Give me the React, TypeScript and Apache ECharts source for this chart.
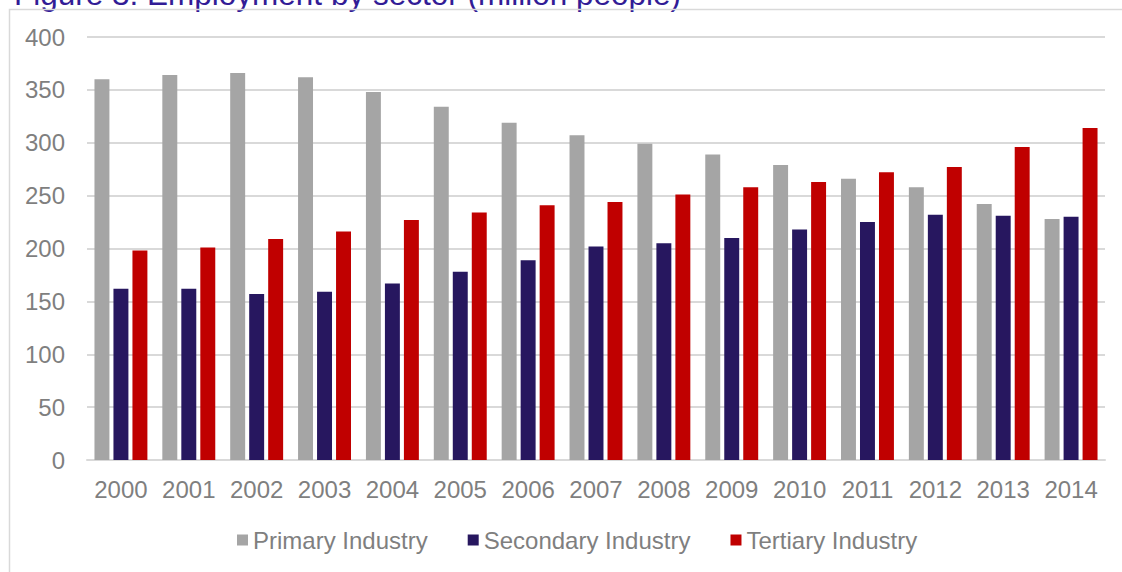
import React, { useEffect, useRef } from "react";
import * as echarts from "echarts";

const years = ["2000","2001","2002","2003","2004","2005","2006","2007","2008","2009","2010","2011","2012","2013","2014"];
const primary = [360, 364, 366, 362, 348, 334, 319, 307, 299, 289, 279, 266, 258, 242, 228];
const secondary = [162, 162, 157, 159, 167, 178, 189, 202, 205, 210, 218, 225, 232, 231, 230];
const tertiary = [198, 201, 209, 216, 227, 234, 241, 244, 251, 258, 263, 272, 277, 296, 314];
const seriesNames = ["Primary Industry", "Secondary Industry", "Tertiary Industry"];
const colors = ["#a5a5a5", "#27175f", "#c00000"];
const titleText = "Figure 3: Employment by sector (million people)";

export default function App() {
  const ref = useRef<HTMLDivElement>(null);
  useEffect(() => {
    if (!ref.current) return;
    const chart = echarts.init(ref.current, undefined, { renderer: "svg" });
    const font = "Liberation Sans, Arial, sans-serif";
    const dataSets = [primary, secondary, tertiary];
    chart.setOption({
      animation: false,
      backgroundColor: "#ffffff",
      textStyle: { fontFamily: font },
      graphic: [
        {
          type: "text",
          x: 14,
          y: 9.5,
          style: {
            text: titleText,
            fill: "#321c96",
            font: "31.5px Liberation Sans, Arial, sans-serif",
            textVerticalAlign: "bottom",
          },
        },
        {
          type: "rect",
          shape: { x: 9.5, y: 9.5, width: 1200, height: 700 },
          style: { fill: "none", stroke: "#d9d9d9", lineWidth: 1.5 },
          silent: true,
        },
      ],
      legend: {
        data: seriesNames,
        top: 523,
        left: 232,
        itemWidth: 11,
        itemHeight: 11,
        itemGap: 40,
        icon: "rect",
        textStyle: { color: "#7f7f7f", fontSize: 24, fontFamily: font },
      },
      grid: { left: 87, right: 17, top: 37, bottom: 112, containLabel: false },
      xAxis: {
        type: "category",
        data: years,
        axisLine: { lineStyle: { color: "#d9d9d9", width: 2 } },
        axisTick: { show: false },
        axisLabel: { color: "#7f7f7f", fontSize: 24, margin: 17, fontFamily: font, interval: 0, hideOverlap: false },
      },
      yAxis: {
        type: "value",
        min: 0,
        max: 400,
        interval: 50,
        axisLine: { show: false },
        axisTick: { show: false },
        splitLine: { lineStyle: { color: "#d9d9d9", width: 2 } },
        axisLabel: { color: "#7f7f7f", fontSize: 24, margin: 22, fontFamily: font },
      },
      series: seriesNames.map((name, i) => ({
        name,
        type: "bar",
        data: dataSets[i],
        itemStyle: { color: colors[i] },
        barGap: "27%",
        barCategoryGap: "22%",
      })),
    });
    return () => chart.dispose();
  }, []);
  return <div ref={ref} style={{ position: "fixed", left: 0, top: 0, width: 1122, height: 572 }} />;
}
